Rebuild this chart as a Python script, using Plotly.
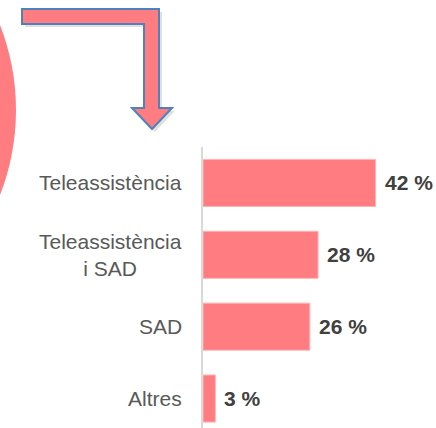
import plotly.graph_objects as go

# Survey results: type of care service
categories = ["Altres", "SAD", "Teleassistència i SAD", "Teleassistència"]
tick_labels = ["Altres", "SAD", "Teleassistència<br>i SAD", "Teleassistència"]
percentages = [3, 26, 28, 42]

PINK = "#FF7C80"
W, H = 436, 428
L, T = 203, 147


def px(x, y):
    # pixel position -> paper coordinates
    return (x - L) / (W - L), (H - y) / (H - T)


def path(points):
    parts = []
    for i, (x, y) in enumerate(points):
        a, b = px(x, y)
        parts.append(("M" if i == 0 else "L") + f"{a:.4f},{b:.4f}")
    return " ".join(parts) + " Z"


arrow = [(22, 9), (159, 9), (159, 108), (172, 108), (152, 129), (132, 108),
         (144, 108), (144, 24), (22, 24)]
shadow = [(x + 3, y + 3) for x, y in arrow]

fig = go.Figure(go.Bar(
    y=categories, x=percentages, orientation="h",
    marker=dict(color=PINK, line=dict(color="#FFB3B5", width=1)),
    hoverinfo="skip",
))

shapes = []
# big circle, mostly off-screen on the left
cx0, cy0 = px(-452, -124)
cx1, cy1 = px(16, 344)
shapes.append(dict(type="circle", xref="paper", yref="paper",
                   x0=cx0, y0=cy1, x1=cx1, y1=cy0,
                   fillcolor=PINK, line=dict(width=0), layer="below"))
shapes.append(dict(type="path", xref="paper", yref="paper", path=path(shadow),
                   fillcolor="rgba(0,0,0,0.12)", line=dict(width=0)))
shapes.append(dict(type="path", xref="paper", yref="paper", path=path(arrow),
                   fillcolor=PINK, line=dict(color="#4F81BD", width=2)))

annotations = []
for cat, lab, val in zip(categories, tick_labels, percentages):
    annotations.append(dict(x=0, y=cat, xref="x", yref="y", text=lab,
                            showarrow=False, xanchor="right", align="center",
                            xshift=-19, font=dict(size=21, color="#595959")))
    annotations.append(dict(x=val, y=cat, xref="x", yref="y", text=f"<b>{val} %</b>",
                            showarrow=False, xanchor="left", xshift=7,
                            font=dict(size=21, color="#404040")))

fig.update_layout(
    width=W, height=H,
    margin=dict(l=L, r=0, t=T, b=0),
    paper_bgcolor="white", plot_bgcolor="white",
    font=dict(family="Arial, Liberation Sans, sans-serif"),
    showlegend=False,
    bargap=0.345,
    shapes=shapes,
    annotations=annotations,
    xaxis=dict(range=[0, 56.7], visible=False),
    yaxis=dict(type="category", categoryorder="array", categoryarray=categories,
               range=[-0.41, 3.5], showticklabels=False, showgrid=False,
               showline=True, linecolor="#D9D9D9", linewidth=2, ticks=""),
)

fig.write_html("out.html", config={"displayModeBar": False},
               post_script="document.body.style.margin='0';")
